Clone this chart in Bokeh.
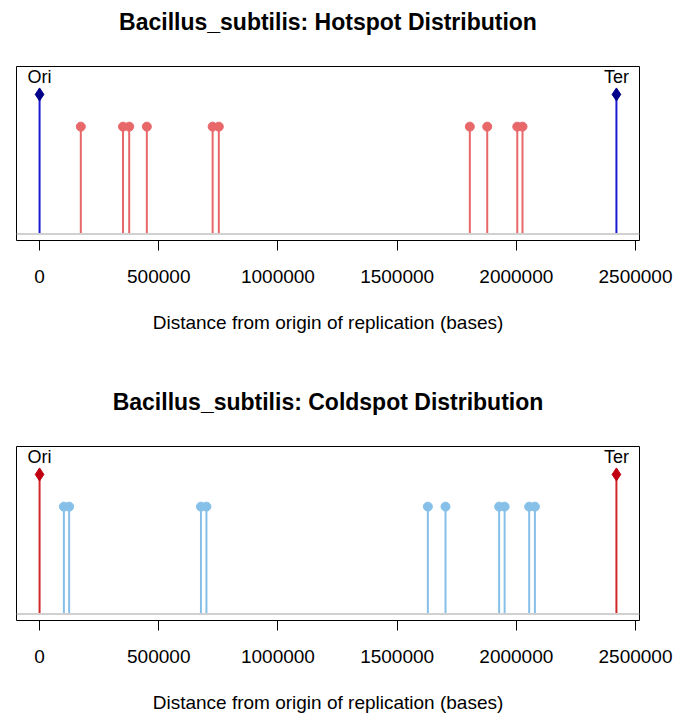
from bokeh.plotting import figure
from bokeh.layouts import column
from bokeh.models import Range1d, FixedTicker, BasicTickFormatter, Span, LinearAxis
from bokeh.core.properties import value
from bokeh.embed import file_html
from bokeh.resources import INLINE

# ---- data ----
ori_ter_labels = ["Ori", "Ter"]
ori_ter_pos = [0, 2420000]
hotspots = [173000, 350000, 376000, 450000, 726000, 752000, 1805000, 1878000, 2004000, 2026000]
coldspots = [102000, 124000, 677000, 700000, 1629000, 1703000, 1928000, 1951000, 2054000, 2078000]
x_ticks = [0, 500000, 1000000, 1500000, 2000000, 2500000]
spot_level = 1.0
marker_level = 1.3

FONT = "Liberation Sans"


def make_panel(title, spots, spot_color, mark_line, mark_fill, height, bottom):
    p = figure(
        frame_width=623, frame_height=174,
        min_border_left=16, min_border_right=39,
        min_border_top=66, min_border_bottom=bottom,
        height=height, width=678,
        x_range=Range1d(-96800, 2516800), y_range=Range1d(-0.06, 1.56),
        output_backend="svg", toolbar_location=None,
        background_fill_color="white", border_fill_color="white",
    )
    # chart title, drawn as the label of a bare axis above the frame
    top = LinearAxis(ticker=FixedTicker(ticks=[]), axis_label=title,
                     axis_line_color=None, major_tick_line_color=None,
                     minor_tick_line_color=None, major_tick_out=0, major_tick_in=0,
                     major_label_standoff=0, axis_label_standoff=32,
                     axis_label_text_font=FONT, axis_label_text_font_size="23px",
                     axis_label_text_font_style="bold", axis_label_text_color="black")
    p.add_layout(top, "above")

    p.grid.visible = False
    p.yaxis.visible = False
    p.outline_line_color = "black"
    p.outline_line_width = 1
    p.outline_line_alpha = 1

    ax = p.below[0]
    ax.ticker = FixedTicker(ticks=x_ticks)
    ax.formatter = BasicTickFormatter(use_scientific=False)
    ax.bounds = (x_ticks[0], x_ticks[-1])
    ax.axis_line_color = "black"
    ax.major_tick_line_color = "black"
    ax.major_tick_in = 0
    ax.major_tick_out = 10
    ax.minor_tick_line_color = None
    ax.major_label_text_font = FONT
    ax.major_label_text_font_size = "19px"
    ax.major_label_text_color = "black"
    ax.major_label_standoff = 19
    ax.axis_label = "Distance from origin of replication (bases)"
    ax.axis_label_text_font = FONT
    ax.axis_label_text_font_size = "19px"
    ax.axis_label_text_font_style = "normal"
    ax.axis_label_text_color = "black"
    ax.axis_label_standoff = 26

    p.add_layout(Span(location=0, dimension="width", line_color="#D0D0D0", line_width=2))

    p.segment(x0=spots, y0=[0] * len(spots), x1=spots, y1=[spot_level] * len(spots),
              line_color=spot_color, line_width=2)
    p.scatter(x=spots, y=[spot_level] * len(spots), marker="circle", size=9,
              fill_color=spot_color, line_color=spot_color)

    p.segment(x0=ori_ter_pos, y0=[0, 0], x1=ori_ter_pos, y1=[marker_level] * 2,
              line_color=mark_line, line_width=2)
    p.scatter(x=ori_ter_pos, y=[marker_level] * 2, marker="diamond", size=13,
              fill_color=mark_fill, line_color=mark_fill)
    p.text(x=ori_ter_pos, y=[marker_level] * 2, text=ori_ter_labels,
           text_font=value(FONT), text_font_size="18px", text_color="black",
           text_align="center", text_baseline="bottom", y_offset=-7)
    return p


p1 = make_panel("Bacillus_subtilis: Hotspot Distribution", hotspots,
                "#E8686A", "#1A1AD0", "#00008B", 380, 140)
p2 = make_panel("Bacillus_subtilis: Coldspot Distribution", coldspots,
                "#86C0E8", "#D02828", "#C00010", 335, 95)

layout = column(p1, p2, spacing=0)
open("out.html", "w").write(file_html(layout, INLINE))
